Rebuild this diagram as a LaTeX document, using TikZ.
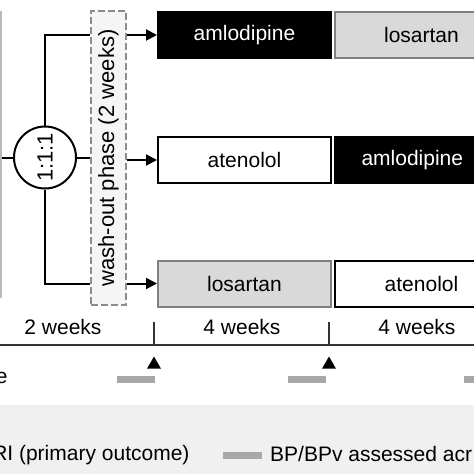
\documentclass[tikz,border=0pt]{standalone}
\usepackage{fontspec}
\setmainfont{Liberation Sans}
\usepackage{xcolor}
\usepackage{tikz}
\usetikzlibrary{shapes.geometric, arrows.meta, positioning}
\definecolor{boxgray}{HTML}{D9D9D9}
\definecolor{edgegray}{HTML}{808080}
\definecolor{washgray}{HTML}{8C8C8C}
\definecolor{washfill}{HTML}{F5F5F5}
\definecolor{bargray}{HTML}{A8A8A8}
\definecolor{legendfill}{HTML}{F0F0F0}
\definecolor{axisgray}{HTML}{333333}
\tikzset{
  drug/.style={rectangle, minimum width=173pt, minimum height=46pt, text centered, line width=2pt},
  blackdrug/.style={drug, draw=black, fill=black, text=white},
  whitedrug/.style={drug, draw=black, fill=white},
  graydrug/.style={drug, draw=edgegray, fill=boxgray},
  runin/.style={rectangle, draw=gray!55, fill=white, line width=2pt, minimum width=100pt, minimum height=285pt},
  washout/.style={rectangle, dash pattern=on 7pt off 3pt, draw=washgray, fill=washfill, line width=2pt, minimum width=35pt, minimum height=294pt, inner sep=0pt, font=\fontsize{22}{26}\selectfont},
  ratio/.style={circle, draw=black, fill=white, line width=2pt, minimum size=62pt, inner sep=0pt, font=\fontsize{22}{26}\selectfont},
  link/.style={line width=2pt},
  arrow/.style={line width=2pt, -{Triangle[length=11pt, width=11pt]}},
  tick/.style={line width=2.5pt, draw=axisgray},
  visit/.style={regular polygon, regular polygon sides=3, fill=black, minimum size=16pt, inner sep=0pt},
  bpbar/.style={rectangle, fill=bargray, minimum width=38pt, minimum height=7pt, inner sep=0pt}
}

\begin{document}
\begin{tikzpicture}[x=1pt, y=-1pt, font=\fontsize{21}{25}\selectfont]
    \clip (0,0) rectangle (474,474);
    % Legend background
    \fill[legendfill] (-10,405) rectangle (484,484);

    % Nodes
    \node[runin] (prior) at (-49,154.5) {};
    \node[ratio] (rand) at (45,157.5) {\rotatebox{90}{1:1:1}};
    \node[washout] (wash) at (108.5,158) {\rotatebox{90}{wash-out phase (2 weeks)}};
    \node[blackdrug] (a1) at (244.5,35) {amlodipine};
    \node[graydrug, right=2pt of a1] (b1) {losartan};
    \node[whitedrug] (a2) at (244.5,160) {atenolol};
    \node[blackdrug, right=2pt of a2, text width=160pt, align=left] (b2) {\hspace*{20pt}amlodipine};
    \node[graydrug] (a3) at (244.5,283.5) {losartan};
    \node[whitedrug, right=2pt of a3] (b3) {atenolol};

    % Arrows
    \draw[link] (prior.east |- rand) -- (rand);
    \draw[link] (rand.north) |- (wash.west |- a1);
    \draw[link] (rand) -- (wash.west |- rand);
    \draw[link] (rand.south) |- (wash.west |- a3);
    \draw[arrow] (wash.east |- a1) -- (a1);
    \draw[arrow] (wash.east |- a2) -- (a2);
    \draw[arrow] (wash.east |- a3) -- (a3);

    % Time line
    \coordinate (tl) at (-5,345);
    \coordinate (tr) at (480,345);
    \coordinate (t1) at (154,345);
    \coordinate (t2) at (329,345);
    \draw[link, draw=axisgray] (tl) -- (tr);
    \draw[tick] (t1) -- ++(0,-23);
    \draw[tick] (t2) -- ++(0,-23);
    \node (w0) at (63,327) {2 weeks};
    \node (w1) at (242,327) {4 weeks};
    \node (w2) at (417,327) {4 weeks};

    % Visits
    \node[visit] (v1) at (154,364.5) {};
    \node[visit] (v2) at (329,364.5) {};
    \node[bpbar] (m1) at (136,379) {};
    \node[bpbar] (m2) at (307,379) {};
    \node[bpbar] (m3) at (483,379) {};
    \node[anchor=east] (rowlbl) at (11,378) {e};

    % Legend
    \node[anchor=east] (leg1) at (193,455) {RI (primary outcome)};
    \node[bpbar, minimum width=39pt] (legbar) at (242.5,455) {};
    \node[anchor=west, inner sep=0pt] (leg2) at (270,454) {BP/BPv assessed acr};
\end{tikzpicture}
\end{document}
